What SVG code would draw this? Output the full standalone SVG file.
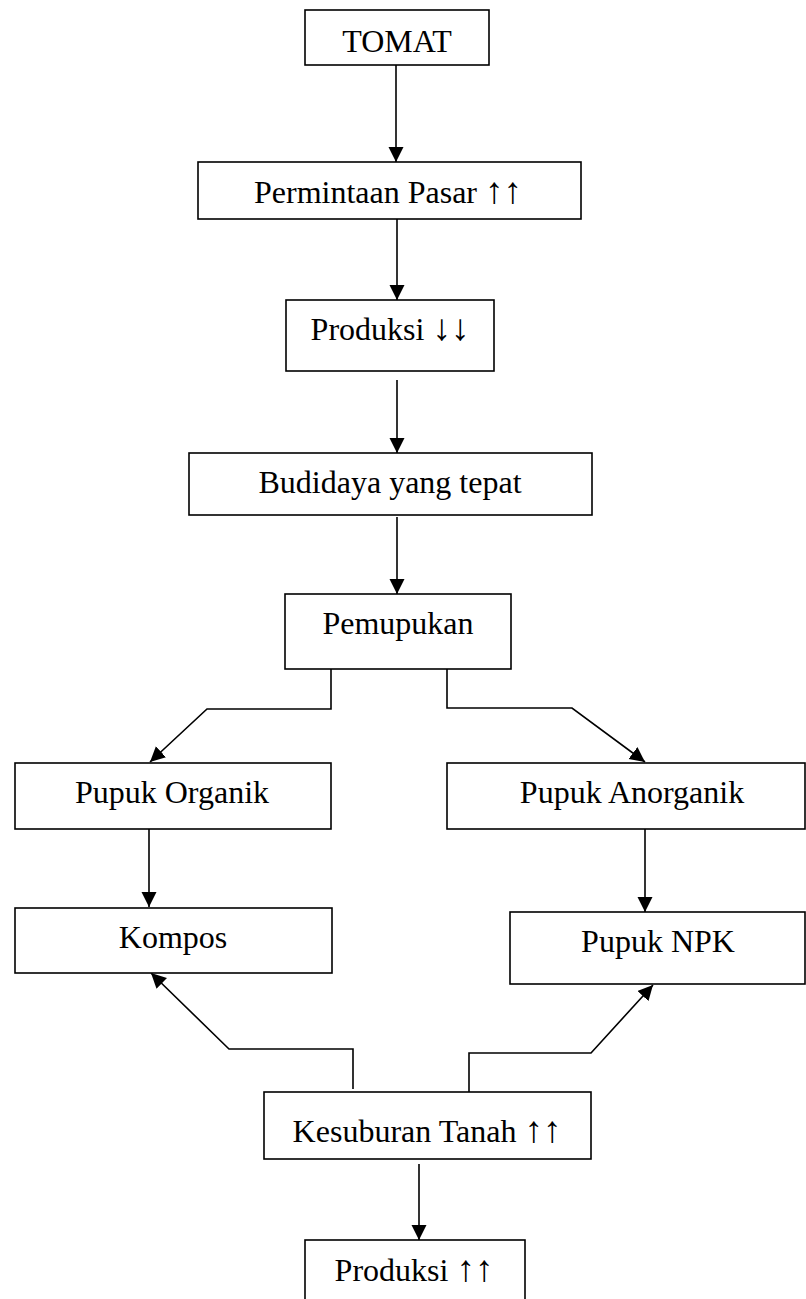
<svg xmlns="http://www.w3.org/2000/svg" width="806" height="1299" viewBox="0 0 806 1299">
<defs>
<marker id="ah" markerUnits="userSpaceOnUse" markerWidth="16" markerHeight="16" refX="15" refY="7.5" orient="auto">
<path d="M0,0 L15,7.5 L0,15 z" fill="#000"/>
</marker>
<style>
.box{fill:#fff;stroke:#000;stroke-width:1.6}
.lbl{font-family:"Liberation Serif","Times New Roman",serif;font-size:32px;fill:#000;text-anchor:middle}
.ar{font-size:37px}
.con{fill:none;stroke:#000;stroke-width:1.6}
.arr{marker-end:url(#ah)}
</style>
</defs>
<rect width="806" height="1299" fill="#fff"/>
<g id="connectors">
<path class="con arr" d="M396,65 L396,162"/>
<path class="con arr" d="M397,219 L397,300"/>
<path class="con arr" d="M397,380 L397,453"/>
<path class="con arr" d="M397,517 L397,594"/>
<path class="con arr" d="M331,669 L331,709 L207,709 L150,762"/>
<path class="con arr" d="M447,669 L447,708 L572,708 L645,762"/>
<path class="con arr" d="M149,829 L149,907"/>
<path class="con arr" d="M645,829 L645,912"/>
<path class="con arr" d="M353,1089 L353,1049 L229,1049 L151,973"/>
<path class="con arr" d="M469,1092 L469,1053 L591,1053 L653,985"/>
<path class="con arr" d="M419,1164 L419,1240"/>
</g>
<g id="tomat"><rect class="box" x="305" y="10" width="184" height="55"/><text class="lbl" x="397" y="52">TOMAT</text></g>
<g id="permintaan"><rect class="box" x="198" y="162" width="383" height="57"/><text class="lbl" x="388" y="203">Permintaan Pasar <tspan class="ar">↑↑</tspan></text></g>
<g id="produksi1"><rect class="box" x="286" y="300" width="208" height="71"/><text class="lbl" x="390" y="340">Produksi <tspan class="ar">↓↓</tspan></text></g>
<g id="budidaya"><rect class="box" x="189" y="453" width="403" height="62"/><text class="lbl" x="390" y="493">Budidaya yang tepat</text></g>
<g id="pemupukan"><rect class="box" x="285" y="594" width="226" height="75"/><text class="lbl" x="398" y="634">Pemupukan</text></g>
<g id="organik"><rect class="box" x="15" y="763" width="316" height="66"/><text class="lbl" x="172" y="803">Pupuk Organik</text></g>
<g id="anorganik"><rect class="box" x="447" y="763" width="358" height="66"/><text class="lbl" x="632" y="803">Pupuk Anorganik</text></g>
<g id="kompos"><rect class="box" x="15" y="908" width="317" height="65"/><text class="lbl" x="173" y="948">Kompos</text></g>
<g id="npk"><rect class="box" x="510" y="912" width="295" height="72"/><text class="lbl" x="658" y="952">Pupuk NPK</text></g>
<g id="kesuburan"><rect class="box" x="264" y="1092" width="327" height="67"/><text class="lbl" x="427" y="1142">Kesuburan Tanah <tspan class="ar">↑↑</tspan></text></g>
<g id="produksi2"><rect class="box" x="305" y="1240" width="220" height="80"/><text class="lbl" x="414" y="1281">Produksi <tspan class="ar">↑↑</tspan></text></g>
</svg>
